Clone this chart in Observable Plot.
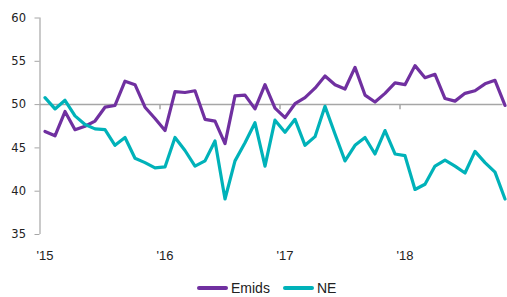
<!DOCTYPE html>
<html><head><meta charset="utf-8">
<script src="https://cdn.jsdelivr.net/npm/d3@7"></script>
<script src="https://cdn.jsdelivr.net/npm/@observablehq/plot@0.6"></script>
<style>
body{margin:0;background:#fff;}
#chart{position:relative;width:507px;height:297px;overflow:hidden;}
#chart svg{position:absolute;left:0;top:0;}
.legend{position:absolute;top:280px;left:197px;display:flex;align-items:center;font:14px "Liberation Sans",Arial,sans-serif;color:#222;line-height:16px;}
.sw{display:inline-block;width:31px;height:3.5px;border-radius:2px;margin-right:3px;}
.item{display:flex;align-items:center;margin-right:13px;}
</style></head><body><div id="chart"></div>
<script>
const seriesNames = ["Emids", "NE"];
const seriesColors = ["#7030A0", "#00B2B9"];
const yearLabels = ["'15", "'16", "'17", "'18"];
const yearStartIdx = [0, 12, 24, 36];
const yearBoundaries = [11.5, 23.5, 35.5];
const yTicks = [35, 40, 45, 50, 55, 60];
// monthly, Jan 2015 .. Nov 2018
const emids = [46.9, 46.4, 49.2, 47.1, 47.5, 48.1, 49.7, 49.9, 52.7, 52.3, 49.7, 48.4,
               47.0, 51.5, 51.4, 51.6, 48.3, 48.1, 45.5, 51.0, 51.1, 49.5, 52.3, 49.6,
               48.5, 50.1, 50.8, 51.9, 53.3, 52.3, 51.8, 54.3, 51.1, 50.3, 51.3, 52.5,
               52.3, 54.5, 53.1, 53.5, 50.7, 50.4, 51.3, 51.6, 52.4, 52.8, 49.9];
const ne =    [50.8, 49.5, 50.5, 48.7, 47.7, 47.2, 47.1, 45.3, 46.2, 43.8, 43.3, 42.7,
               42.8, 46.2, 44.7, 42.9, 43.5, 45.8, 39.1, 43.5, 45.6, 47.9, 42.9, 48.2,
               46.8, 48.3, 45.3, 46.3, 49.8, 46.6, 43.5, 45.3, 46.2, 44.3, 47.0, 44.3,
               44.1, 40.2, 40.8, 42.9, 43.6, 42.9, 42.1, 44.6, 43.3, 42.2, 39.1];

const rows = [];
emids.forEach((v, i) => rows.push({i, v, s: seriesNames[0]}));
ne.forEach((v, i) => rows.push({i, v, s: seriesNames[1]}));

const gray = "#a6a6a6";
const plot = Plot.plot({
  width: 507, height: 268,
  marginTop: 17.5, marginBottom: 34, marginLeft: 39.5, marginRight: 0,
  x: {type: "linear", domain: [-0.5, 46.5], range: [39.5, 509.5]},
  y: {domain: [35, 60]},
  color: {domain: seriesNames, range: seriesColors},
  style: {fontFamily: "DejaVu Sans, sans-serif", fontSize: "11.5px", background: "white", overflow: "visible"},
  marks: [
    Plot.ruleY([50], {x1: -0.5, x2: 45.8, stroke: gray, strokeWidth: 1.5}),
    Plot.ruleX(yearBoundaries, {y1: 50, y2: 49.4, stroke: gray, strokeWidth: 1.5}),
    Plot.ruleX([-0.5], {y1: 35, y2: 60, stroke: gray, strokeWidth: 1.2}),
    Plot.axisY({ticks: yTicks, tickSize: 5, tickPadding: 9, stroke: gray, fill: "#222", label: null, style: "letter-spacing:1px"}),
    Plot.axisX({ticks: yearStartIdx, tickFormat: (d) => yearLabels[yearStartIdx.indexOf(d)], tickSize: 0, tickPadding: 16, label: null, fill: "#222", fontFamily: "Liberation Sans, Arial, sans-serif", fontSize: 13}),
    Plot.lineY(rows, {x: "i", y: "v", z: "s", stroke: "s", strokeWidth: 3.2, strokeLinejoin: "round"})
  ]
});
const chart = document.getElementById("chart");
chart.appendChild(plot);
const legend = document.createElement("div");
legend.className = "legend";
seriesNames.forEach((n, k) => {
  const it = document.createElement("span");
  it.className = "item";
  const sw = document.createElement("span");
  sw.className = "sw";
  sw.style.background = seriesColors[k];
  it.appendChild(sw);
  it.appendChild(document.createTextNode(n));
  legend.appendChild(it);
});
chart.appendChild(legend);
</script>
</body></html>
